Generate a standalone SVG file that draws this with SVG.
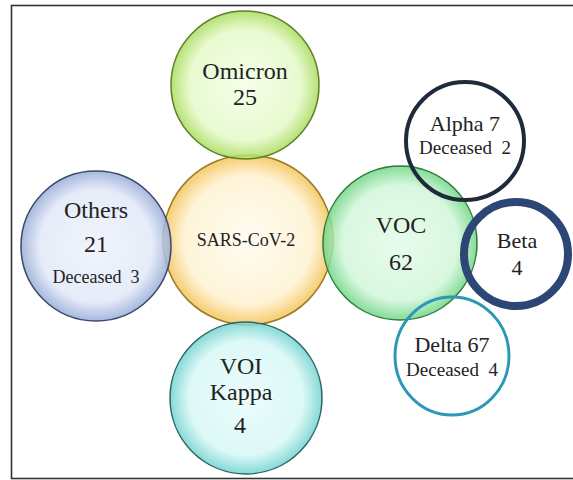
<svg xmlns="http://www.w3.org/2000/svg" width="573" height="480" viewBox="0 0 573 480">
<defs>
<radialGradient id="gOm" cx="50%" cy="50%" r="50%"><stop offset="0" stop-color="#f4ffe6"/><stop offset="0.75" stop-color="#e4f9c8"/><stop offset="1" stop-color="#a9dc5c"/></radialGradient>
<radialGradient id="gSars" cx="50%" cy="50%" r="50%"><stop offset="0" stop-color="#fffbef"/><stop offset="0.75" stop-color="#fff2d2"/><stop offset="1" stop-color="#f3c458"/></radialGradient>
<radialGradient id="gOth" cx="50%" cy="50%" r="50%"><stop offset="0" stop-color="#eef2fb"/><stop offset="0.75" stop-color="#e1e8f7"/><stop offset="1" stop-color="#98acd8"/></radialGradient>
<radialGradient id="gVoc" cx="50%" cy="50%" r="50%"><stop offset="0" stop-color="#e4fbe8"/><stop offset="0.75" stop-color="#d2f6da"/><stop offset="1" stop-color="#6fd685"/></radialGradient>
<radialGradient id="gVoi" cx="50%" cy="50%" r="50%"><stop offset="0" stop-color="#e9fcfc"/><stop offset="0.75" stop-color="#d6f7f6"/><stop offset="1" stop-color="#72d3cf"/></radialGradient>
</defs>
<style>
text{font-family:"Liberation Serif","Times New Roman",serif;fill:#222;text-anchor:middle}
.big{font-size:24px}
.mid{font-size:22px}
.sm{font-size:19px}
.bub{fill-opacity:0.85;stroke-width:1.5}
</style>
<rect x="0" y="0" width="573" height="480" fill="#fff"/>
<rect x="11.5" y="5.5" width="600" height="473" fill="none" stroke="#333" stroke-width="1.6"/>
<g id="sars">
<circle class="bub" cx="248" cy="240" r="85" fill="url(#gSars)" stroke="#9a7a22"/>
<text x="246" y="246" style="font-size:18px">SARS-CoV-2</text>
</g>
<g id="omicron">
<circle class="bub" cx="245" cy="85" r="74" fill="url(#gOm)" stroke="#5f7f25"/>
<text x="245" y="79" class="big">Omicron</text>
<text x="245" y="105" class="big">25</text>
</g>
<g id="others">
<circle class="bub" cx="96" cy="246" r="75" fill="url(#gOth)" stroke="#3b4a68"/>
<text x="96" y="218" class="big">Others</text>
<text x="96" y="252" class="big">21</text>
<text x="96" y="283" style="font-size:18px" xml:space="preserve">Deceased  3</text>
</g>
<g id="voi">
<circle class="bub" cx="246" cy="398" r="76" fill="url(#gVoi)" stroke="#2d6565"/>
<text x="241" y="374" class="big">VOI</text>
<text x="241" y="400" class="big">Kappa</text>
<text x="240" y="433" class="big">4</text>
</g>
<g id="voc">
<circle class="bub" cx="400" cy="243" r="77" fill="url(#gVoc)" stroke="#2d7a3a"/>
<text x="401" y="233" class="big">VOC</text>
<text x="401" y="270" class="big">62</text>
</g>
<g id="alpha">
<circle cx="465" cy="141" r="59" fill="none" stroke="#1f2b3b" stroke-width="4"/>
<text x="465" y="131" class="mid">Alpha 7</text>
<text x="465" y="154" class="sm" xml:space="preserve">Deceased  2</text>
</g>
<g id="beta">
<circle cx="516" cy="254" r="52" fill="none" stroke="#2c4675" stroke-width="8"/>
<text x="517" y="248" class="mid">Beta</text>
<text x="517" y="275" class="mid">4</text>
</g>
<g id="delta">
<ellipse cx="452" cy="356" rx="57" ry="59" fill="none" stroke="#2b98b5" stroke-width="3"/>
<text x="452" y="352" class="mid">Delta 67</text>
<text x="452" y="376" class="sm" xml:space="preserve">Deceased  4</text>
</g>
</svg>
